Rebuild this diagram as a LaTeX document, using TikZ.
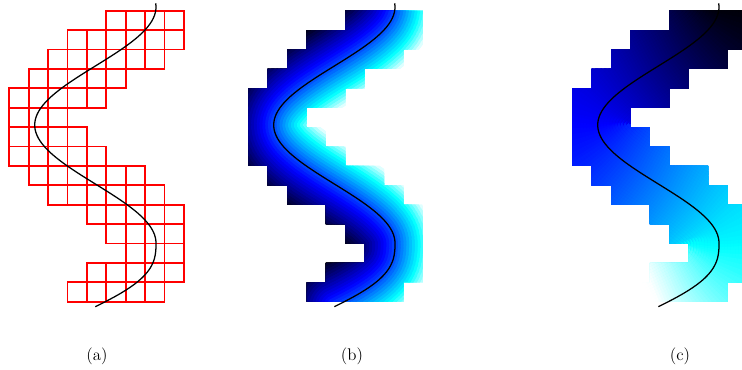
\documentclass[tikz,border=0pt]{standalone}
\usetikzlibrary{decorations.markings}

% colour map: black (0) -> blue (0.4) -> cyan (0.8) -> white (1)
\newcommand{\setmapcolor}[2]{%
  \pgfmathsetmacro\mapt{max(0,min(1,#2))}%
  \pgfmathsetmacro\mapr{max(0,(\mapt-0.8)/0.2)}%
  \pgfmathsetmacro\mapg{max(0,min(1,(\mapt-0.4)/0.4))}%
  \pgfmathsetmacro\mapb{min(1,\mapt/0.4)}%
  \definecolor{#1}{rgb}{\mapr,\mapg,\mapb}}

% the curve, top to bottom (sampled)
\newcommand{\sinecurve}{plot[domain=3.3:243.3, samples=81, variable=\t] ({95.35-60.65*cos(1.52542*(\t-125))},{\t}) -- plot[domain=246:306.7, samples=20, variable=\t] ({95.35+60.65*cos(90*((\t-243.3)/63.4)^1.35)},{\t})}

% row / first column / last column of the cells
\newcommand{\cellrows}{0/5/8, 1/3/8, 2/2/7, 3/1/5, 4/0/4, 5/0/2, 6/0/3, 7/0/4, 8/1/6, 9/2/7, 10/4/8, 11/5/8, 12/6/8, 13/4/8, 14/3/7}

\begin{document}
\begin{tikzpicture}[
		x=0.025cm, y=-0.025cm,
		cell/.style={draw=red, line width=1.4pt},
		contour/.style={black, line width=0.9pt, line join=round},
		sublabel/.style={font=\large}
		]
		\useasboundingbox (0,0) rectangle (742,369);
		
		% (a) cells around the curve
		\foreach \r/\ca/\cb in \cellrows {
			\foreach \c in {\ca,...,\cb} {
				\draw[cell] ({9.3+19.4*\c},{10.7+19.4*\r}) rectangle ++(19.4,19.4);
			}
		}
		\draw[contour] \sinecurve;
		
		% (b) signed distance
		\begin{scope}[shift={(239,0)}]
			\begin{scope}
				\clip \foreach \r/\ca/\cb in \cellrows {({9.3+19.4*\ca},{10.7+19.4*\r}) rectangle ({9.3+19.4*(\cb+1)},{10.7+19.4*(\r+1)})};
				\foreach \k in {19,...,0} {
					\pgfmathsetmacro\dB{2*(\k+1)}
					\pgfmathsetmacro\wA{1.3}
					\pgfmathsetmacro\wB{1.3+0.08*\dB}
					\setmapcolor{sdfpos}{0.515+(\dB-1)/58.7}
					\setmapcolor{sdfneg}{0.515-(\dB-1)/66.2}
					\path[decoration={markings,
						mark=between positions 0 and 1 step 2pt with {
							\fill[sdfpos] (-\wA pt,0pt) -- (\wA pt,0pt) -- (\wB pt,\dB pt) -- (-\wB pt,\dB pt) -- cycle;
							\fill[sdfneg] (-\wA pt,0pt) -- (\wA pt,0pt) -- (\wB pt,-\dB pt) -- (-\wB pt,-\dB pt) -- cycle;},
						mark=at position 0 with {
							\fill[sdfpos] (0pt,0pt) -- (90:\dB pt) arc[start angle=90, end angle=180, radius=\dB pt] -- cycle;
							\fill[sdfneg] (0pt,0pt) -- (180:\dB pt) arc[start angle=180, end angle=270, radius=\dB pt] -- cycle;},
						mark=at position 0.9999 with {
							\fill[sdfpos] (0pt,0pt) -- (0:\dB pt) arc[start angle=0, end angle=90, radius=\dB pt] -- cycle;
							\fill[sdfneg] (0pt,0pt) -- (-90:\dB pt) arc[start angle=-90, end angle=0, radius=\dB pt] -- cycle;}
						}, decorate] \sinecurve;
				}
			\end{scope}
			\draw[contour] \sinecurve;
		\end{scope}
		
		% (c) position along the curve
		\begin{scope}[shift={(563,0)}]
			\begin{scope}
				\clip \foreach \r/\ca/\cb in \cellrows {({9.3+19.4*\ca},{10.7+19.4*\r}) rectangle ({9.3+19.4*(\cb+1)},{10.7+19.4*(\r+1)})};
				\foreach \k in {19,...,0} {
					\pgfmathsetmacro\dB{2*(\k+1)}
					\pgfmathsetmacro\wA{1.3}
					\pgfmathsetmacro\wB{1.3+0.08*\dB}
					\path[decoration={markings,
						mark=between positions 0 and 1 step 2pt with {
							\pgfmathsetmacro\arct{\pgfkeysvalueof{/pgf/decoration/mark info/distance from start}/\pgfdecoratedpathlength}
							\setmapcolor{arccol}{\arct}
							\fill[arccol] (-\wB pt,-\dB pt) -- (\wB pt,-\dB pt) -- (\wA pt,0pt) -- (\wB pt,\dB pt) -- (-\wB pt,\dB pt) -- (-\wA pt,0pt) -- cycle;},
						mark=at position 0 with {
							\fill[black] (0pt,0pt) -- (90:\dB pt) arc[start angle=90, end angle=270, radius=\dB pt] -- cycle;},
						mark=at position 0.9999 with {
							\fill[white] (0pt,0pt) -- (-90:\dB pt) arc[start angle=-90, end angle=90, radius=\dB pt] -- cycle;}
						}, decorate] \sinecurve;
				}
			\end{scope}
			\draw[contour] \sinecurve;
		\end{scope}
		
		% sub-figure labels
		\node[sublabel] (lbla) at (97,356) {(a)};
		\node[sublabel] (lblb) at (352,356) {(b)};
		\node[sublabel] (lblc) at (680,356) {(c)};
		
	\end{tikzpicture}
\end{document}
